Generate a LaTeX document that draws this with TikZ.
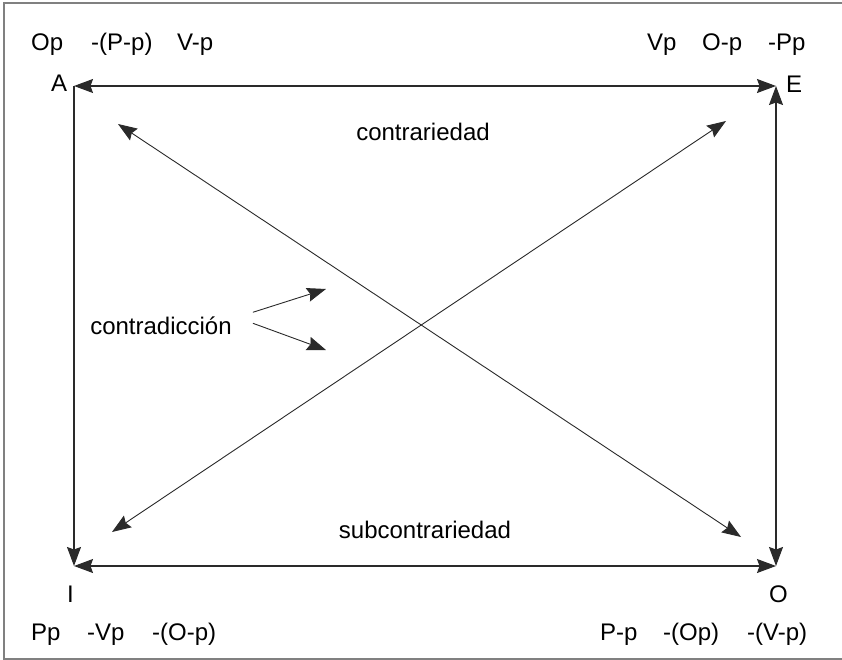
\documentclass[tikz,border=0pt]{standalone}
\usepackage{fontspec}
\setmainfont{Liberation Sans}
\usetikzlibrary{arrows.meta,positioning}
\definecolor{sqLine}{HTML}{2A2A2A}
\definecolor{sqFrame}{HTML}{808080}

\begin{document}
\begin{tikzpicture}[x=1pt,y=-1pt,
  lbl/.style={inner sep=0pt,font=\fontsize{24}{27}\selectfont,anchor=base west},
  ar/.style={{Stealth[length=19pt,width=14pt,inset=2.5pt]}-{Stealth[length=19pt,width=14pt,inset=2.5pt]},draw=sqLine,line width=1.1pt},
  one/.style={-{Stealth[length=19pt,width=14pt,inset=2.5pt]},draw=sqLine,line width=1.1pt}
]
\useasboundingbox (0,0) rectangle (842,660);
\draw[sqFrame,line width=1.2pt] (842,3) -- (4,3) -- (4,659) -- (842,659);

% corners of the square
\coordinate (A) at (74,86);
\coordinate (E) at (776,86);
\coordinate (I) at (74,566);
\coordinate (O) at (776,566);
% ends of the diagonals
\coordinate (dA) at (118,124);
\coordinate (dO) at (741,537);
\coordinate (dE) at (726,121);
\coordinate (dI) at (112,532);

\node[lbl] (la) at (51,92) {A};
\node[lbl] (le) at (786,93) {E};
\node[lbl] (li) at (67,602) {I};
\node[lbl] (lo) at (769,602) {O};

\node[lbl] (a1) at (31,51) {Op};
\node[lbl] (a2) at (91,51) {-(P-p)};
\node[lbl] (a3) at (177,51) {V-p};
\node[lbl] (e1) at (647,51) {Vp};
\node[lbl] (e2) at (702,51) {O-p};
\node[lbl] (e3) at (768,51) {-Pp};
\node[lbl] (i1) at (31,640) {Pp};
\node[lbl] (i2) at (87,640) {-Vp};
\node[lbl] (i3) at (152,640) {-(O-p)};
\node[lbl] (o1) at (600,640) {P-p};
\node[lbl] (o2) at (663,640) {-(Op)};
\node[lbl] (o3) at (747,640) {-(V-p)};

\node[lbl,anchor=base] (contr) at (423,141) {contrariedad};
\node[lbl,anchor=base] (sub) at (425,538) {subcontrariedad};
\node[lbl,anchor=base] (cd) at (161,334) {contradicción};
\coordinate (cd1) at (326,289);
\coordinate (cd2) at (326,350);

\draw[ar] (A) -- (E);
\draw[ar] (I) -- (O);
\draw[one] (A) -- (I);
\draw[ar] (E) -- (O);
\draw[ar,line width=0.9pt] (dA) -- (dO);
\draw[ar,line width=0.9pt] (dI) -- (dE);
\draw[one,line width=0.9pt] (cd.east) ++(21,-13) -- (cd1);
\draw[one,line width=0.9pt] (cd.east) ++(21,-2) -- (cd2);
\end{tikzpicture}
\end{document}
